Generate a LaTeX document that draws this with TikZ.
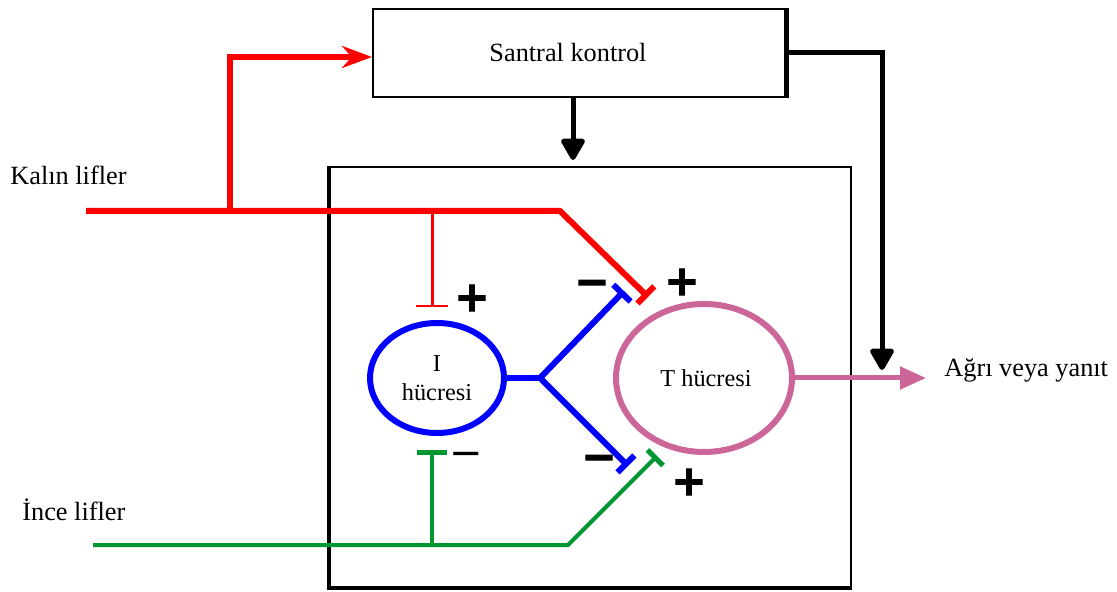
\documentclass[tikz,border=0pt]{standalone}
\usepackage{fontspec}
\setmainfont{Liberation Serif}
\newfontfamily\signfont{DejaVu Sans}
\newfontfamily\heavysign[FakeBold=2.5]{DejaVu Sans Bold}
\usetikzlibrary{arrows.meta,shapes.geometric}

\definecolor{fibred}{RGB}{255,0,0}
\definecolor{fibblue}{RGB}{0,0,255}
\definecolor{fibgreen}{RGB}{0,150,50}
\definecolor{cellpink}{RGB}{204,102,153}

\begin{document}
\begin{tikzpicture}[x=0.5pt,y=-0.5pt,
  outertext/.style={inner sep=0pt,font=\fontsize{13.15}{15.5}\selectfont},
  cell/.style={ellipse,line width=3pt,inner sep=0pt,align=center,
    font=\fontsize{12.15}{14.5}\selectfont},
  thickfiber/.style={line width=3pt},
  thinfiber/.style={line width=1.5pt},
  ctrlline/.style={line width=2.5pt,black},
  synapse/.style={-{Bar[width=12pt]}},
  downtip/.style={-{Triangle[length=12pt,width=13pt,round]}},
  plussign/.style={inner sep=0pt,font=\heavysign\fontsize{21}{21}\selectfont},
  minussign/.style={inner sep=0pt,font=\heavysign\fontsize{21}{21}\selectfont},
  thinminus/.style={inner sep=0pt,font=\signfont\fontsize{20}{20}\selectfont}]

\useasboundingbox (0,0) rectangle (1117,592);

% central control box with its heavy right edge
\node[draw,line width=1pt,minimum width=206pt,minimum height=44pt,inner sep=0pt,
      font=\fontsize{13.15}{15.5}\selectfont] (ctrl) at (579,53) {\raisebox{-2pt}{Santral kontrol}\kern11pt};
\draw[line width=2.5pt] (ctrl.north east) -- (ctrl.south east);

% spinal gate frame, heavier on the left and bottom
\node[draw,line width=1pt,minimum width=260.5pt,minimum height=210pt,inner sep=0pt] (gate) at (590.5,377) {};
\draw[line width=2pt] (gate.north west) -- (gate.south west) -- (gate.south east);

% cells
\node[cell,draw=fibblue,minimum width=67pt,minimum height=55pt] (icell) at (437,378) {I\\hücresi};
\node[cell,draw=cellpink,minimum width=88pt,minimum height=74pt] (tcell) at (704,378) {\raisebox{-3pt}{T hücresi}\kern-2pt};

% labels
\node[outertext,anchor=base west] (kalin) at (10,185) {Kalın lifler};
\node[outertext,anchor=base west] (ince) at (22,520) {İnce lifler};
\node[outertext,anchor=base west] (agri) at (944,377) {Ağrı veya yanıt};

% coordinates along the fibres
\coordinate (kin) at (86,211);
\coordinate (kup) at (230,211);
\coordinate (kcorner) at (230,57);
\coordinate (kdrop) at (432,211);
\coordinate (kbend) at (560,211);
\coordinate (kend) at (648,297);
\coordinate (idrop) at (432,307);

\coordinate (iin) at (93,545);
\coordinate (irise) at (432,545);
\coordinate (ibend) at (568,545);
\coordinate (iend) at (657,456);
\coordinate (itop) at (432,450);

\coordinate (fork) at (540,378);
\coordinate (bup) at (624,291);
\coordinate (bdown) at (628,466);

\coordinate (gatein) at (573,160);
\coordinate (rcorner) at (882,53);
\coordinate (rend) at (882,370);
\coordinate (out) at (926,378);

% large-diameter fibres (red)
\draw[fibred,thickfiber,synapse] (kin) -- (kbend) -- (kend);
\draw[fibred,thickfiber,-{Stealth[length=15pt,width=11pt]}] (kup) -- (kcorner) -- ([yshift=-2pt]ctrl.west);
\draw[fibred,thinfiber,-{Bar[width=16pt,line width=1pt]}] (kdrop) -- (idrop);

% small-diameter fibres (green)
\draw[fibgreen,line width=2pt,-{Bar[width=11pt,line width=2.5pt]}] (iin) -- (ibend) -- (iend);
\draw[fibgreen,line width=2pt,-{Bar[width=15pt,line width=2.5pt]}] (irise) -- (itop);

% inhibitory interneuron output (blue)
\draw[fibblue,thickfiber] (icell.east) -- (fork);
\draw[fibblue,thickfiber,synapse] (fork) -- (bup);
\draw[fibblue,thickfiber,synapse] (fork) -- (bdown);

% descending control (black)
\draw[ctrlline,downtip] ([xshift=-3pt]ctrl.south) -- (gatein);
\draw[ctrlline,downtip] (ctrl.east) -- (rcorner) -- (rend);

% transmission cell output
\draw[cellpink,line width=2.5pt,-{Triangle[length=13pt,width=11pt]}] (tcell.east) -- (out);

% excitatory / inhibitory signs
\node[plussign] (p1) at (472,298) {+};
\node[minussign] (m1) at (592,288) {−};
\node[plussign] (p2) at (682,282) {+};
\node[minussign] (m2) at (599,463) {−};
\node[plussign] (p3) at (689,482) {+};
\node[thinminus] (m3) at (466,459) {−};
\end{tikzpicture}
\end{document}
